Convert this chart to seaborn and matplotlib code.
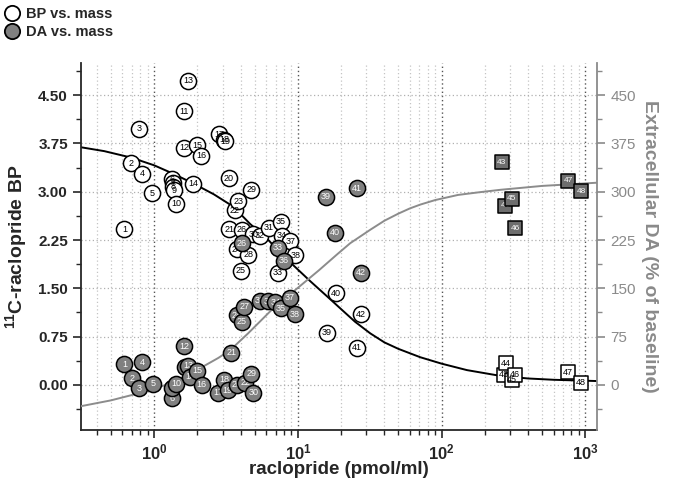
import numpy as np
import pandas as pd
import matplotlib
matplotlib.use("Agg")
import matplotlib.pyplot as plt
import matplotlib.ticker as mticker
from matplotlib.lines import Line2D
import seaborn as sns

# ---------------- data ----------------
bp_labels = [1, 2, 3, 4, 5, 6, 7, 8, 9, 10, 11, 12, 13, 14, 15, 16, 17, 18, 19, 20,
             21, 22, 23, 24, 25, 26, 28, 29, 30, 32, 31, 35, 34, 33, 37, 38, 39, 40, 41, 42]
bp_mass = [0.621, 0.692, 0.790, 0.821, 0.973, 1.335, 1.356, 1.356, 1.378, 1.423,
           1.617, 1.625, 1.733, 1.877, 1.982, 2.123, 2.848, 3.07, 3.12, 3.315,
           3.34, 3.63, 3.86, 3.76, 4.02, 4.08, 4.53, 4.73, 4.91, 5.46,
           6.31, 7.57, 7.74, 7.23, 8.84, 9.58, 15.87, 18.34, 25.7, 27.4]
bp_value = [2.42, 3.44, 3.98, 3.28, 2.98, 3.19, 3.13, 3.08, 3.02, 2.81,
            4.25, 3.68, 4.72, 3.12, 3.72, 3.56, 3.89, 3.81, 3.78, 3.21,
            2.42, 2.71, 2.85, 2.11, 1.77, 2.41, 2.02, 3.03, 2.34, 2.32,
            2.44, 2.53, 2.32, 1.74, 2.23, 2.01, 0.81, 1.42, 0.58, 1.10]

bp_sq_labels = [43, 44, 45, 46, 47, 48]
bp_sq_mass = [269.6, 281.6, 308.5, 325.0, 756.0, 936.0]
bp_sq_value = [0.156, 0.34, 0.08, 0.156, 0.20, 0.036]

da_labels = [1, 2, 3, 4, 5, 6, 7, 10, 11, 12, 13, 14, 15, 16, 17, 18, 19, 20, 21, 22,
             24, 25, 27, 26, 29, 30, 31, 32, 34, 35, 33, 36, 37, 38, 39, 40, 41, 42]
da_mass = [0.621, 0.700, 0.790, 0.821, 0.979, 1.328, 1.328, 1.423, 1.644, 1.625,
           1.733, 1.78, 2.00, 2.147, 2.80, 3.07, 3.24, 3.76, 3.43, 4.30,
           3.76, 4.07, 4.23, 4.07, 4.73, 4.91, 5.43, 6.22, 6.95, 7.60,
           7.23, 8.0, 8.77, 9.5, 15.7, 18.1, 25.7, 27.4]
da_value = [32, 10, -5, 35, 2, -21, -5, 2, 28, 60,
            30, 13, 22, 0, -12, 8, -8, 0, 50, 3,
            108, 98, 121, 220, 17, -12, 131, 130, 128, 119,
            213, 193, 135, 110, 292, 236, 305, 174]

da_sq_labels = [43, 44, 45, 46, 47, 48]
da_sq_mass = [262.0, 277.0, 308.0, 325.0, 756.0, 936.0]
da_sq_value = [346, 278, 289, 243, 317, 301]

# fitted curves
bp_fit_mass = [0.31, 0.45, 0.692, 1.0, 1.356, 1.867, 2.6, 3.546, 4.65, 6.1, 8.4,
               12.2, 16.8, 20.6, 25.0, 31.9, 40, 50, 71, 100, 150, 257, 400, 600, 1210]
bp_fit_value = [3.69, 3.63, 3.53, 3.41, 3.28, 3.13, 2.96, 2.77, 2.50, 2.27, 1.95,
                1.61, 1.33, 1.15, 0.98, 0.80, 0.66, 0.56, 0.43, 0.33, 0.23, 0.14, 0.10, 0.08, 0.06]
da_fit_mass = [0.31, 0.5, 0.75, 1.10, 1.5, 2.09, 2.8, 3.38, 4.5, 6.6, 9.9,
               14, 18.8, 23.1, 31.9, 40, 50, 60, 71, 90, 130, 180, 257, 500, 1210]
da_fit_value = [-33, -24, -14, -3, 8, 26, 42, 54, 80, 117, 150,
                178, 203, 220, 241, 255, 266, 274, 280, 287, 295, 299, 303, 309, 314]

x_major_labels = [r"$\mathbf{10^{0}}$", r"$\mathbf{10^{1}}$",
                  r"$\mathbf{10^{2}}$", r"$\mathbf{10^{3}}$"]
x_major = [1, 10, 100, 1000]
y_left_ticks = [0.00, 0.75, 1.50, 2.25, 3.00, 3.75, 4.50]
y_right_ticks = [0, 75, 150, 225, 300, 375, 450]

# ---------------- styling ----------------
sns.set_style("ticks")
plt.rcParams["font.family"] = ["Liberation Sans", "DejaVu Sans"]
plt.rcParams["mathtext.fontset"] = "custom"
plt.rcParams["mathtext.rm"] = "Liberation Sans"
plt.rcParams["mathtext.bf"] = "Liberation Sans:bold"

GRAY = "#8a8a8a"
DAFILL = "#808080"

fig = plt.figure(figsize=(6.78, 4.78), dpi=100)
ax = fig.add_axes([0.1195, 0.1004, 0.7615, 0.768])
ax2 = ax.twinx()

ax.set_xscale("log")
ax.set_xlim(0.31, 1210)
ax.set_ylim(-0.70, 5.0)
ax2.set_ylim(-70, 500)

# grid
for dec in [0.1, 1, 10, 100, 1000]:
    for m in range(2, 10):
        xv = dec * m
        if 0.31 < xv < 1210:
            ax.axvline(xv, color="#c4c4c4", lw=0.9, ls=(0, (1, 2)), zorder=0)
for xv in x_major:
    ax.axvline(xv, color="#555555", lw=1.0, ls=(0, (1, 2)), zorder=0)
for yv in y_left_ticks:
    ax.axhline(yv, color="#b0b0b0", lw=0.9, ls=(0, (1, 2)), zorder=0)

# curves
sns.lineplot(x=bp_fit_mass, y=bp_fit_value, ax=ax, color="black", lw=1.4, sort=False, zorder=2)
sns.lineplot(x=da_fit_mass, y=da_fit_value, ax=ax2, color="#8c8c8c", lw=1.4, sort=False, zorder=2)

# BP points
sns.scatterplot(x=bp_mass, y=bp_value, ax=ax, s=135, marker="o", facecolor="white",
                edgecolor="black", linewidth=1.1, zorder=3)
sns.scatterplot(x=bp_sq_mass, y=bp_sq_value, ax=ax, s=110, marker="s", facecolor="white",
                edgecolor="black", linewidth=1.1, zorder=3)
for lab, xv, yv in zip(bp_labels + bp_sq_labels, bp_mass + bp_sq_mass, bp_value + bp_sq_value):
    ax.text(xv, yv, str(lab), ha="center", va="center", fontsize=6.5, color="black", zorder=4)

# DA points (on right axis)
for lab, xv, yv in zip(da_labels, da_mass, da_value):
    ax2.scatter([xv], [yv], s=135, marker="o", facecolor=DAFILL, edgecolor="black",
                linewidth=1.1, zorder=3)
    ax2.text(xv, yv, str(lab), ha="center", va="center", fontsize=6.5, color="white", zorder=3)
for lab, xv, yv in zip(da_sq_labels, da_sq_mass, da_sq_value):
    ax2.scatter([xv], [yv], s=110, marker="s", facecolor="#6e6e6e", edgecolor="black",
                linewidth=1.1, zorder=3)
    ax2.text(xv, yv, str(lab), ha="center", va="center", fontsize=6, color="white", zorder=3)

# axes decorations
ax.set_xticks(x_major)
ax.set_xticklabels(x_major_labels)
ax.xaxis.set_minor_locator(mticker.LogLocator(base=10, subs=np.arange(2, 10)))
ax.xaxis.set_minor_formatter(mticker.NullFormatter())
ax.set_yticks(y_left_ticks)
ax.set_yticklabels([f"{v:.2f}" for v in y_left_ticks])
ax.yaxis.set_minor_locator(mticker.FixedLocator([-0.375 + 0.75 * i for i in range(8)]))
ax2.set_yticks(y_right_ticks)
ax2.set_yticklabels([str(v) for v in y_right_ticks])
ax2.yaxis.set_minor_locator(mticker.FixedLocator([-37.5 + 75 * i for i in range(8)]))

ax.tick_params(axis="both", which="major", direction="out", length=6, width=1.2,
               labelsize=11)
ax.tick_params(axis="both", which="minor", direction="out", length=3.5, width=1.0)
for lbl in ax.get_xticklabels() + ax.get_yticklabels():
    lbl.set_fontweight("bold")
ax.tick_params(axis="x", labelsize=12, pad=3)
ax2.tick_params(axis="y", which="major", direction="out", length=6, width=1.2,
                labelsize=11, colors=GRAY)
ax2.tick_params(axis="y", which="minor", direction="out", length=3.5, width=1.0, colors=GRAY)

for a in (ax, ax2):
    a.spines["top"].set_visible(False)
ax.spines["left"].set_linewidth(1.3)
ax.spines["bottom"].set_linewidth(1.3)
ax.spines["right"].set_visible(False)
ax2.spines["left"].set_visible(False)
ax2.spines["bottom"].set_visible(False)
ax2.spines["right"].set_color(GRAY)
ax2.spines["right"].set_linewidth(1.3)

ax.set_xlabel("raclopride (pmol/ml)", fontsize=13.5, fontweight="bold", labelpad=-1)
ax.set_ylabel(r"$^{\mathbf{11}}$C-raclopride BP", fontsize=14, fontweight="bold", labelpad=6)
ax2.set_ylabel("Extracellular DA (% of baseline)", fontsize=14, fontweight="bold",
               color=GRAY, rotation=270, labelpad=16)

# legend (top-left of figure)
handles = [Line2D([], [], marker="o", ls="", markersize=11, markerfacecolor="white",
                  markeredgecolor="black", markeredgewidth=1.3),
           Line2D([], [], marker="o", ls="", markersize=11, markerfacecolor=DAFILL,
                  markeredgecolor="black", markeredgewidth=1.3)]
leg = fig.legend(handles, ["BP vs. mass", "DA vs. mass"], loc="upper left",
                 bbox_to_anchor=(-0.006, 1.004), frameon=False, handletextpad=0.45,
                 handlelength=1.0, labelspacing=0.3, borderaxespad=0.2,
                 prop={"weight": "bold", "size": 10.5})

fig.savefig("out.png", dpi=100)
